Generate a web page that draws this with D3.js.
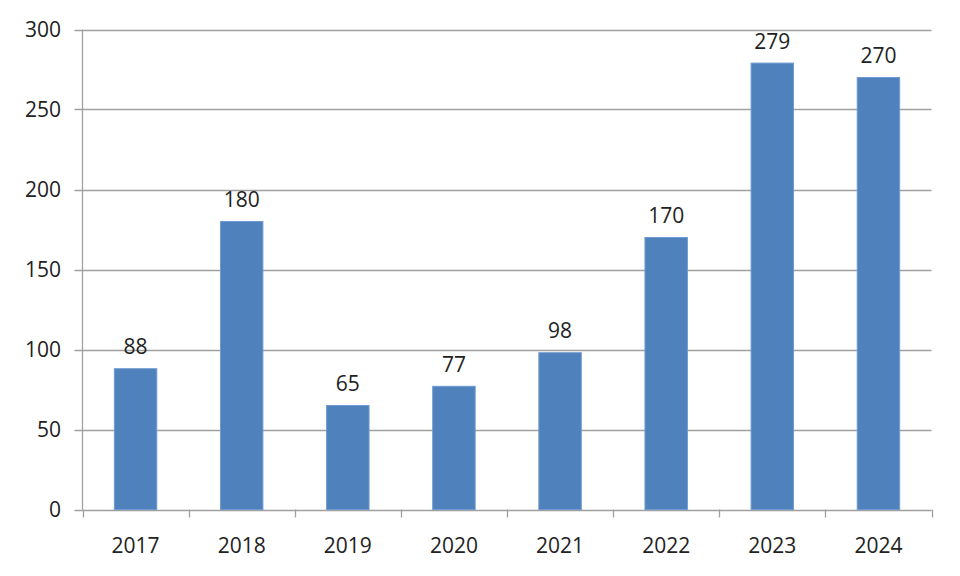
<!DOCTYPE html>
<html><head><meta charset="utf-8">
<script src="https://cdn.jsdelivr.net/npm/d3@7"></script>
<style>body{margin:0;background:#fff}svg{display:block}</style>
</head><body>
<svg id="c" width="960" height="576"></svg>
<script>
const categories = ["2017","2018","2019","2020","2021","2022","2023","2024"];
const values = [88,180,65,77,98,170,279,270];
const yTicks = [0,50,100,150,200,250,300];

(function(){
const svg = d3.select("#c");
const L = 82.5, R = 931.5, T = 29.5, B = 509.5;
const font = "'Open Sans', sans-serif";

const x = d3.scaleBand().domain(categories).range([L, R]).paddingInner(0.6).paddingOuter(0.3);
const y = d3.scaleLinear().domain([0,300]).range([B, T]);

svg.append("g").selectAll("line").data(yTicks).join("line")
  .attr("x1", L - 8).attr("x2", R)
  .attr("y1", d => Math.round(y(d)) + 0.5).attr("y2", d => Math.round(y(d)) + 0.5)
  .attr("stroke", "#a0a0a0").attr("stroke-width", 1.3);

svg.append("line").attr("x1", L).attr("x2", L).attr("y1", y(300)).attr("y2", B)
  .attr("stroke", "#a0a0a0").attr("stroke-width", 1.3);

svg.append("g").selectAll("text").data(yTicks).join("text")
  .attr("x", 61).attr("y", d => y(d)).attr("dy", "0.36em")
  .attr("text-anchor", "end").attr("font-family", font).attr("font-size", 21).attr("fill", "#222")
  .text(d => d);

const bounds = d3.range(categories.length + 1).map(i => L + i * (R - L) / categories.length);
svg.append("g").selectAll("line").data(bounds).join("line")
  .attr("x1", d => Math.round(d) + 0.5).attr("x2", d => Math.round(d) + 0.5)
  .attr("y1", B).attr("y2", B + 8)
  .attr("stroke", "#a0a0a0").attr("stroke-width", 1.3);

svg.append("g").selectAll("rect").data(values).join("rect")
  .attr("x", (d,i) => x(categories[i])).attr("width", x.bandwidth())
  .attr("y", d => y(d)).attr("height", d => B - y(d))
  .attr("fill", "#4f81bd").attr("stroke", "#6f9bd0").attr("stroke-width", 1);

svg.append("g").selectAll("text").data(values).join("text")
  .attr("x", (d,i) => x(categories[i]) + x.bandwidth()/2).attr("y", d => y(d) - 22).attr("dy", "0.36em")
  .attr("text-anchor", "middle").attr("font-family", font).attr("font-size", 21).attr("fill", "#222")
  .text(d => d);

svg.append("g").selectAll("text").data(categories).join("text")
  .attr("x", d => x(d) + x.bandwidth()/2).attr("y", 545).attr("dy", "0.36em")
  .attr("text-anchor", "middle").attr("font-family", font).attr("font-size", 21).attr("fill", "#222")
  .text(d => d);
})();
</script>
</body></html>
